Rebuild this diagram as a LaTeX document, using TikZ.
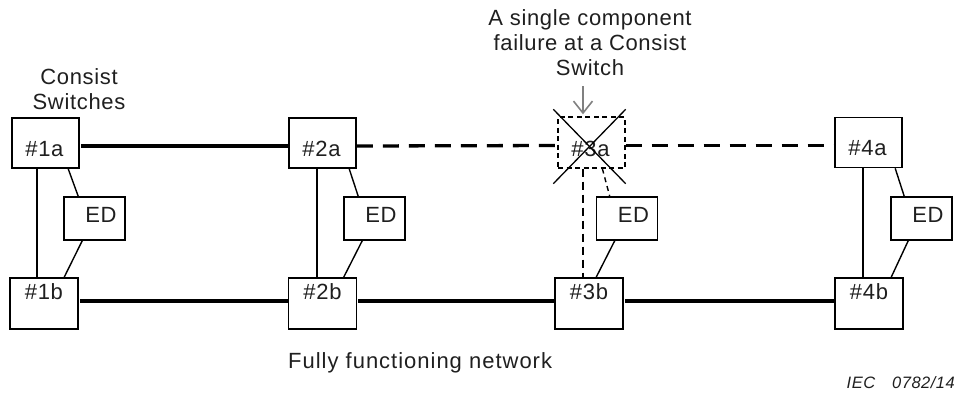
\documentclass[tikz,border=0pt]{standalone}
\usepackage{fontspec}
\setmainfont{Liberation Sans}[LetterSpace=3]
\usetikzlibrary{arrows.meta}
\begin{document}
\begin{tikzpicture}[x=1pt,y=-1pt,
  txt/.style={font=\fontsize{22}{25}\selectfont, text=black!88, inner sep=0pt, align=center},
  swa/.style={draw, line width=1.6pt, minimum width=67pt, minimum height=50pt, inner sep=0pt},
  swb/.style={draw, line width=1.6pt, minimum width=68pt, minimum height=51pt, inner sep=0pt},
  edbox/.style={draw, line width=1.6pt, minimum width=61pt, minimum height=43pt, inner sep=0pt},
  failbox/.style={draw, line width=1.3pt, dash pattern=on 5pt off 3.5pt, minimum width=67pt, minimum height=51pt, inner sep=0pt},
  trunk/.style={line width=3.3pt},
  trunkdash/.style={line width=3.3pt, dash pattern=on 16pt off 10pt},
  riser/.style={line width=2.2pt},
  riserdash/.style={line width=2.2pt, dash pattern=on 8pt off 5pt},
  edlink/.style={line width=1.4pt},
  edlinkdash/.style={line width=1.4pt, dash pattern=on 5pt off 4pt},
  crossline/.style={line width=1.3pt},
  grayarrow/.style={line width=1.8pt, draw=black!50, -{Straight Barb[length=12pt,width=19pt,line width=1.6pt]}}
]
\useasboundingbox (0,0) rectangle (956,394);

% switches
\node[swa] (s1a) at (45.5,143) {};
\node[swb] (s1b) at (44,303.5) {};
\node[edbox] (e1) at (94.5,218.5) {};
\node[swa] (s2a) at (322.5,143) {};
\node[swb] (s2b) at (322.5,303.5) {};
\node[edbox] (e2) at (374.5,218.5) {};
\node[failbox] (s3a) at (591.5,142.5) {};
\node[swb] (s3b) at (589,303.5) {};
\node[edbox] (e3) at (627,218.5) {};
\node[swa] (s4a) at (868.5,142.5) {};
\node[swb] (s4b) at (869,303.5) {};
\node[edbox] (e4) at (921.5,218.5) {};

% labels in boxes
\foreach \n/\t in {s1a/\#1a, s2a/\#2a, s3a/\#3a, s4a/\#4a}
  \node[txt] (t\n) at ([shift={(-1,6)}]\n.center) {\t};
\foreach \n/\t in {s1b/\#1b, s2b/\#2b, s3b/\#3b, s4b/\#4b}
  \node[txt] (t\n) at ([shift={(0,-12)}]\n.center) {\t};
\foreach \n in {e1,e2,e3,e4}
  \node[txt] (t\n) at ([shift={(6.5,-3.5)}]\n.center) {ED};

% trunk lines
\draw[trunk] ([shift={(1,3)}]s1a.east) -- ([shift={(0,3)}]s2a.west);
\draw[trunkdash] ([shift={(0,3)}]s2a.east) -- ([shift={(0,3)}]s3a.west);
\draw[trunkdash] ([shift={(0,3)}]s3a.east) -- ([shift={(0,3)}]s4a.west);
\draw[trunk] ([shift={(1,-2.5)}]s1b.east) -- ([shift={(0,-2.5)}]s2b.west);
\draw[trunk] ([shift={(1,-2.5)}]s2b.east) -- ([shift={(0,-2.5)}]s3b.west);
\draw[trunk] ([shift={(1,-2.5)}]s3b.east) -- ([shift={(0,-2.5)}]s4b.west);

% risers
\coordinate (v1) at (37,0);
\coordinate (v2) at (317,0);
\coordinate (v3) at (583,0);
\coordinate (v4) at (863,0);
\draw[riser] (s1a.south -| v1) -- (s1b.north -| v1);
\draw[riser] (s2a.south -| v2) -- (s2b.north -| v2);
\draw[riserdash] (s3a.south -| v3) -- (s3b.north -| v3);
\draw[riser] (s4a.south -| v4) -- (s4b.north -| v4);

% ED links
\draw[edlink] ([shift={(57,0)}]s1a.south west) -- ([shift={(15,0)}]e1.north west);
\draw[edlink] ([shift={(19,0)}]e1.south west) -- ([shift={(55,0)}]s1b.north west);
\draw[edlink] ([shift={(61,0)}]s2a.south west) -- ([shift={(15,0)}]e2.north west);
\draw[edlink] ([shift={(19,0)}]e2.south west) -- ([shift={(56,0)}]s2b.north west);
\draw[edlinkdash] ([shift={(45,0)}]s3a.south west) -- ([shift={(14,0)}]e3.north west);
\draw[edlink] ([shift={(19,0)}]e3.south west) -- ([shift={(42,0)}]s3b.north west);
\draw[edlink] ([shift={(61,0)}]s4a.south west) -- ([shift={(14,0)}]e4.north west);
\draw[edlink] ([shift={(18,0)}]e4.south west) -- ([shift={(57,0)}]s4b.north west);

% failure cross
\draw[crossline] ([shift={(-4,-7)}]s3a.north west) -- ([shift={(0,15)}]s3a.south east);
\draw[crossline] ([shift={(0,-7)}]s3a.north east) -- ([shift={(-4,15)}]s3a.south west);

% texts
\node[txt] (cs) at (79,89.5) {Consist\\Switches};
\node[txt] (fail) at (590,43) {A single component\\failure at a Consist\\Switch};
\coordinate (arrs) at (583,86);
\draw[grayarrow] (arrs) -- ([shift={(0,-2)}]arrs |- s3a.north);
\node[txt, anchor=west, font=\fontsize{22}{25}\selectfont\addfontfeature{LetterSpace=4.5}] (ffn) at (288,363) {Fully functioning network};
\node[txt, anchor=east, font=\fontsize{16.5}{18}\selectfont\itshape] (iec) at (955,383) {IEC\hspace{17pt}0782/14};
\end{tikzpicture}
\end{document}
